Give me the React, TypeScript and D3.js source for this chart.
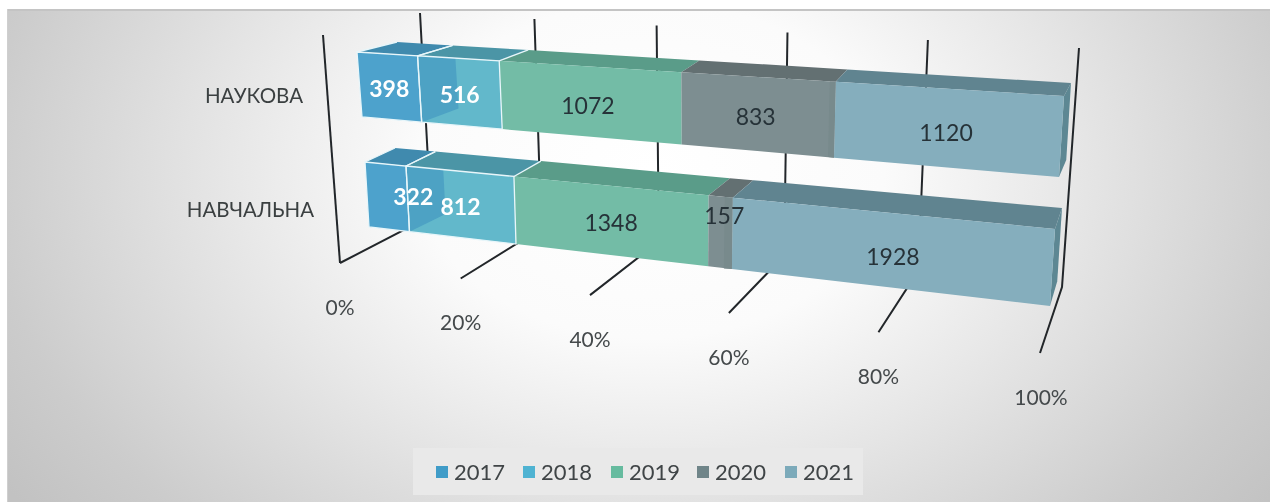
import React from "react";
import * as d3 from "d3";

const years = ["2017", "2018", "2019", "2020", "2021"];
const categories = ["НАУКОВА", "НАВЧАЛЬНА"];
const naukova = [398, 516, 1072, 833, 1120];
const navchalna = [322, 812, 1348, 157, 1928];
const ticks = [0, 0.2, 0.4, 0.6, 0.8, 1];

const frontColors = ["#4da2cc", "#62b8cb", "#73bca6", "#7d8e91", "#85aebd"];
const topColors = ["#3f8aae", "#4c95a6", "#5a9c89", "#636f72", "#618490"];
const wallColor = "#4da2c4";
const legendColors = ["#3f9cc8", "#4fb3d2", "#66bb9f", "#6f8589", "#7caaba"];

type P = [number, number];
const W = 1275, H = 502, R = 1270;
const lerp = (a: P, b: P, t: number): P => [a[0] + (b[0] - a[0]) * t, a[1] + (b[1] - a[1]) * t];
// perspective foreshortening of the percent axis
const persp = (k: number) => (p: number) => p / (p + (1 - p) * k);
const pct = d3.scaleLinear().domain([0, 1]).range([0, 1]);
const path = d3.line<P>().curve(d3.curveLinearClosed);
const seg = d3.line<P>();

const barGeom = [
  { fl: [357, 52] as P, fr: [1064, 96] as P, bl: [362, 117] as P, br: [1059, 177] as P, kl: [397, 42] as P, kr: [1071, 83] as P, kFront: 1.2, kBack: 1.25, strip: 6, wallX: 2 },
  { fl: [365, 162] as P, fr: [1055, 229] as P, bl: [369, 227] as P, br: [1050, 306] as P, kl: [395, 148] as P, kr: [1062, 208] as P, kFront: 1.2, kBack: 1.18, strip: 8, wallX: 7 },
];
const labelNudge: P[][] = [
  [[0, 1], [0, 2], [-1, 4], [-1, 2], [1, 4]],
  [[26, -1], [0, 2], [2, 2], [4, -17], [7, 6]],
];

const rows = [naukova, navchalna];
const table = rows.map((r) => Object.fromEntries(years.map((y, i) => [y, r[i]])));
const stacked = d3.stack<any>().keys(years).offset(d3.stackOffsetExpand)(table);

const gridTop = { a: [420, 13] as P, b: [1079, 48] as P, k: 1.19 };
const gridBack = { a: [431, 216] as P, b: [1062, 287] as P, k: 1.18 };
const gridFront = { a: [340, 263] as P, b: [1040, 353] as P, k: 1.2 };
const onGrid = (g: { a: P; b: P; k: number }, p: number) => lerp(g.a, g.b, persp(g.k)(pct(p)));

const font = "Lato, Carlito, 'Open Sans', sans-serif";

function Bar({ r }: { r: number }) {
  const g = barGeom[r];
  const tf = persp(g.kFront), tb = persp(g.kBack);
  const ft = (p: number) => lerp(g.fl, g.fr, tf(pct(p)));
  const fb = (p: number) => lerp(g.bl, g.br, tf(pct(p)));
  const kt = (p: number) => lerp(g.kl, g.kr, tb(pct(p)));
  const kb = (p: number): P => {
    const a = kt(p), f = ft(p), b = fb(p);
    return [a[0] + (b[0] - f[0]) * 0.95, a[1] + (b[1] - f[1]) * 0.95];
  };
  const spans = stacked.map((s) => [s[r][0], s[r][1]] as [number, number]);
  const frontPoly = (i: number): P[] => [ft(spans[i][0]), ft(spans[i][1]), fb(spans[i][1]), fb(spans[i][0])];
  const wall = spans[0][1];
  const wt = kt(wall), wb = kb(wall);
  const s3 = spans[3];
  const stripT = ft(s3[1]), stripB = fb(s3[1]);
  return (
    <g>
      <defs>
        <clipPath id={`clip${r}`}><path d={path(frontPoly(1))!} /></clipPath>
      </defs>
      {spans.map(([a, b], i) => (
        <path key={"t" + i} d={path([ft(a), ft(b), kt(b), kt(a)])!} fill={topColors[i]} />
      ))}
      <path d={path([ft(1), kt(1), kb(1), fb(1)])!} fill="#5d8793" />
      {spans.map((_, i) => (
        <path key={"f" + i} d={path(frontPoly(i))!} fill={frontColors[i]} />
      ))}
      <path d={path([ft(wall), [wt[0] + g.wallX, wt[1]], [wb[0] + g.wallX, wb[1]], fb(wall)])!} fill={wallColor} clipPath={`url(#clip${r})`} />
      <path d={path([[stripT[0] - g.strip, stripT[1] - 0.4], stripT, stripB, [stripB[0] - g.strip, stripB[1] - 0.6]])!} fill="#788a8c" />
      {spans.slice(0, 2).map(([a, b], i) => (
        <g key={"e" + i} fill="none" stroke="#e8f6fa" strokeWidth={1.3}>
          <path d={path(frontPoly(i))!} />
          <path d={seg([ft(a), kt(a)])!} />
          <path d={seg([ft(b), kt(b)])!} />
        </g>
      ))}
      {spans.map(([a, b], i) => {
        const m = (a + b) / 2;
        const c = lerp(ft(m), fb(m), 0.5);
        const n = labelNudge[r][i];
        const white = i < 2;
        return (
          <text key={"l" + i} x={c[0] + n[0]} y={c[1] + n[1]} textAnchor="middle" dominantBaseline="central"
            fontFamily={font} fontSize={23} fontWeight={white ? 700 : 400} fill={white ? "#ffffff" : "#263238"}>
            {rows[r][i]}
          </text>
        );
      })}
    </g>
  );
}

export default function App() {
  const legendX = [436, 523, 611, 697, 785];
  const catEnd = [303, 314];
  const catY = [95, 209];
  return (
    <svg width={W} height={H} viewBox={`0 0 ${W} ${H}`} style={{ position: "absolute", left: 0, top: 0, display: "block" }}>
      <defs>
        <radialGradient id="bg" gradientUnits="userSpaceOnUse" cx={650} cy={170} r={780} gradientTransform="translate(650 170) scale(1 0.72) translate(-650 -170)">
          <stop offset="0" stopColor="#ffffff" />
          <stop offset="0.3" stopColor="#fbfbfb" />
          <stop offset="0.55" stopColor="#e6e6e6" />
          <stop offset="0.85" stopColor="#cccccc" />
          <stop offset="1" stopColor="#c2c2c2" />
        </radialGradient>
        <filter id="soft" x="0" y="0" width="100%" height="100%" filterUnits="userSpaceOnUse">
          <feGaussianBlur stdDeviation="0.45" />
        </filter>
      </defs>
      <rect x={0} y={0} width={W} height={H} fill="#ffffff" />
      <rect x={7} y={9} width={R - 7} height={H - 9} fill="url(#bg)" />
      <line x1={7} x2={R} y1={10} y2={10} stroke="#c4c4c4" strokeWidth={2} />
      <line x1={7.5} x2={7.5} y1={9} y2={H} stroke="#cfcfcf" strokeWidth={1} />

      <g filter="url(#soft)">
        <g fill="none" stroke="#23272a" strokeWidth={2}>
          <path d={seg([[323, 35], gridFront.a])!} />
          {ticks.map((p) => (
            <path key={p} d={seg([onGrid(gridTop, p), onGrid(gridBack, p), onGrid(gridFront, p)])!} />
          ))}
        </g>

        {categories.map((c, r) => <Bar key={c} r={r} />)}

        {categories.map((c, r) => (
          <text key={c} x={catEnd[r]} y={catY[r]} textAnchor="end" dominantBaseline="central"
            fontFamily={font} fontSize={20.5} fill="#3a3f41">{c}</text>
        ))}

        {ticks.map((p) => {
          const f = onGrid(gridFront, p);
          return (
            <text key={p} x={f[0] + (p === 1 ? 1 : 0)} y={f[1] + 43} textAnchor="middle" dominantBaseline="central"
              fontFamily={font} fontSize={21} fill="#44494b">{d3.format(".0%")(p)}</text>
          );
        })}

        <rect x={413} y={448} width={450} height={47} fill="#e9e9e9" />
        {years.map((y, i) => (
          <g key={y}>
            <rect x={legendX[i]} y={466} width={12} height={12} fill={legendColors[i]} />
            <text x={legendX[i] + 18} y={471} dominantBaseline="central" fontFamily={font} fontSize={22} fill="#3f4446">{y}</text>
          </g>
        ))}
      </g>
    </svg>
  );
}
